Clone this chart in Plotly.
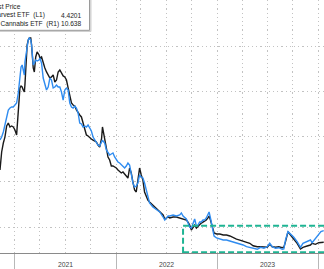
import plotly.graph_objects as go

dates = [
    "2020-11-08", "2020-11-14", "2020-11-20", "2020-11-26", "2020-12-02", "2020-12-08",
    "2020-12-14", "2020-12-20", "2020-12-26", "2021-01-01", "2021-01-07", "2021-01-13",
    "2021-01-19", "2021-01-23", "2021-01-27", "2021-01-31", "2021-02-04", "2021-02-06",
    "2021-02-10", "2021-02-14", "2021-02-18", "2021-02-22", "2021-02-27", "2021-03-02",
    "2021-03-08", "2021-03-12", "2021-03-17", "2021-03-22", "2021-03-29", "2021-04-01",
    "2021-04-07", "2021-04-13", "2021-04-19", "2021-04-25", "2021-05-01", "2021-05-07",
    "2021-05-13", "2021-05-19", "2021-05-25", "2021-05-31", "2021-06-06", "2021-06-12",
    "2021-06-18", "2021-06-24", "2021-06-30", "2021-07-06", "2021-07-12", "2021-07-18",
    "2021-07-24", "2021-07-30", "2021-08-05", "2021-08-11", "2021-08-17", "2021-08-23",
    "2021-08-29", "2021-09-04", "2021-09-10", "2021-09-16", "2021-09-22", "2021-09-28",
    "2021-10-04", "2021-10-10", "2021-10-16", "2021-10-22", "2021-10-28", "2021-11-03",
    "2021-11-10", "2021-11-13", "2021-11-15", "2021-11-21", "2021-11-27", "2021-12-03",
    "2021-12-09", "2021-12-15", "2021-12-21", "2021-12-27", "2022-01-02", "2022-01-08",
    "2022-01-14", "2022-01-20", "2022-01-26", "2022-02-01", "2022-02-07", "2022-02-13",
    "2022-02-19", "2022-02-25", "2022-03-03", "2022-03-09", "2022-03-15", "2022-03-21",
    "2022-03-27", "2022-04-02", "2022-04-08", "2022-04-14", "2022-04-20", "2022-04-26",
    "2022-05-02", "2022-05-14", "2022-05-27", "2022-06-08", "2022-06-20", "2022-06-26",
    "2022-07-02", "2022-07-08", "2022-07-14", "2022-07-26", "2022-08-07", "2022-08-19",
    "2022-08-25", "2022-08-31", "2022-09-12", "2022-09-18", "2022-09-24", "2022-09-30",
    "2022-10-06", "2022-10-12", "2022-10-18", "2022-10-24", "2022-10-30", "2022-11-05",
    "2022-11-11", "2022-11-17", "2022-11-23", "2022-11-29", "2022-12-03", "2022-12-08",
    "2022-12-15", "2022-12-21", "2022-12-30", "2023-01-11", "2023-01-23", "2023-02-04",
    "2023-02-16", "2023-02-28", "2023-03-12", "2023-03-24", "2023-04-05", "2023-04-17",
    "2023-04-29", "2023-05-11", "2023-05-26", "2023-06-07", "2023-06-19", "2023-07-01",
    "2023-07-10", "2023-07-19", "2023-07-31", "2023-08-12", "2023-08-24", "2023-08-30",
    "2023-09-05", "2023-09-14", "2023-09-23", "2023-10-05", "2023-10-17", "2023-10-29",
    "2023-11-07", "2023-11-22", "2023-12-04", "2023-12-10", "2023-12-22", "2024-01-03",
    "2024-01-11", "2024-01-21",
]

# ETFMG Alternative Harvest ETF (L1)
harvest = [
    12.41, 14.40, 15.39, 16.06, 17.27, 17.60, 17.16, 17.27, 17.16, 16.83, 16.28, 19.26,
    21.47, 21.69, 21.58, 21.25, 21.03, 21.80, 24.01, 26.22, 26.77, 26.99, 26.99, 26.22,
    23.68, 23.24, 24.90, 25.45, 25.12, 24.78, 24.90, 24.12, 23.68, 23.24, 22.91, 22.57,
    22.69, 22.91, 22.13, 22.35, 23.24, 23.46, 23.13, 22.80, 22.69, 22.35, 21.47, 20.70,
    19.81, 19.59, 19.48, 19.04, 18.71, 18.49, 18.27, 17.60, 17.05, 16.28, 16.17, 15.94,
    15.83, 15.72, 15.61, 15.50, 15.17, 14.95, 15.94, 17.16, 16.83, 15.72, 14.84, 13.85,
    13.51, 12.85, 12.85, 12.74, 12.63, 12.41, 12.19, 12.08, 12.19, 11.97, 11.75, 11.52,
    12.63, 12.08, 11.08, 10.20, 9.98, 11.30, 12.63, 11.86, 11.30, 9.98, 9.43, 9.09,
    8.87, 8.54, 8.21, 7.88, 7.44, 6.99, 7.11, 7.22, 7.11, 7.22, 7.22, 7.11,
    7.11, 6.99, 6.88, 6.66, 6.33, 5.78, 6.11, 6.33, 6.00, 6.22, 6.44, 6.55,
    6.66, 6.77, 6.88, 7.11, 7.33, 6.88, 6.00, 5.45, 5.34, 5.34, 5.23, 5.23,
    5.12, 4.93, 4.78, 4.67, 4.56, 4.42, 4.31, 4.04, 3.93, 3.93, 3.87, 3.87,
    4.20, 3.93, 3.87, 3.93, 3.82, 3.87, 4.49, 5.59, 5.23, 4.75, 4.31, 3.68,
    3.87, 4.01, 4.12, 4.31, 4.20, 4.38, 4.42, 4.42,
]

# AdvisorShares Pure US Cannabis ETF (R1)
cannabis = [
    30.80, 31.46, 32.57, 34.13, 36.35, 37.46, 37.91, 38.13, 38.13, 38.57, 39.02, 41.24,
    44.13, 47.02, 47.46, 45.91, 45.24, 48.13, 50.13, 51.91, 53.02, 53.46, 53.02, 51.91,
    47.46, 47.91, 48.57, 48.35, 48.57, 49.02, 47.91, 44.57, 43.46, 41.91, 42.57, 44.57,
    44.13, 42.35, 42.57, 43.02, 42.57, 42.57, 41.46, 39.68, 41.91, 42.35, 41.91, 39.02,
    38.13, 37.91, 38.35, 37.91, 36.80, 34.57, 34.35, 33.68, 33.91, 33.68, 34.13, 33.46,
    32.80, 31.46, 30.80, 30.13, 29.68, 29.46, 30.35, 30.80, 30.57, 30.13, 28.57, 27.91,
    27.46, 27.68, 27.91, 27.02, 26.35, 25.91, 25.68, 25.24, 24.80, 24.57, 25.02, 25.68,
    25.24, 23.02, 21.24, 20.35, 20.57, 21.24, 23.02, 22.57, 22.35, 21.24, 19.68, 18.13,
    16.80, 15.91, 15.24, 14.80, 13.68, 13.02, 13.46, 13.91, 13.91, 14.13, 13.91, 14.13,
    14.57, 13.91, 13.24, 12.13, 11.46, 11.24, 12.35, 13.24, 11.68, 11.91, 12.57, 12.57,
    13.02, 13.02, 13.46, 14.35, 14.80, 13.46, 11.24, 9.46, 9.02, 8.80, 8.57, 8.57,
    8.35, 8.20, 7.84, 7.62, 7.46, 7.08, 6.86, 6.73, 6.51, 6.95, 6.73, 7.08,
    7.84, 7.08, 6.73, 6.86, 6.51, 6.57, 8.57, 10.42, 9.91, 9.17, 8.20, 6.95,
    7.84, 8.20, 8.57, 7.97, 8.95, 9.91, 10.42, 10.64,
]

year_labels = ["2021", "2022", "2023"]
year_label_dates = ["2021-07-01", "2022-07-02", "2023-07-02"]
legend_names = ["Last Price",
                "ETFMG Alternative Harvest ETF\u00a0\u00a0(L1)",
                "AdvisorShares Pure US Cannabis ETF\u00a0\u00a0(R1)"]
legend_values = ["4.4201", "10.638"]

W, H = 324, 269
PLOT_H = 253

fig = go.Figure()
fig.add_trace(go.Scatter(x=dates, y=cannabis, yaxis="y2", mode="lines",
                         line=dict(color="#2f8cf0", width=1.4), showlegend=False))
fig.add_trace(go.Scatter(x=dates, y=harvest, yaxis="y", mode="lines",
                         line=dict(color="#1a1a1a", width=1.4), showlegend=False))

grid_col = "#c2c2c2"
grid_dash = "1.2px,3px"
fig.update_layout(
    width=W, height=H,
    margin=dict(l=0, r=0, t=0, b=H - PLOT_H, pad=0),
    paper_bgcolor="white", plot_bgcolor="white",
    showlegend=False,
    xaxis=dict(
        type="date", range=["2020-11-08", "2024-01-22"],
        tick0="2021-01-01", dtick="M12",
        ticks="outside", ticklen=16, tickcolor="#b8b8b8", tickwidth=1,
        showticklabels=False,
        showgrid=True, gridcolor=grid_col, griddash=grid_dash, gridwidth=1.2,
        minor=dict(tick0="2021-01-01", dtick="M3", showgrid=True,
                   gridcolor=grid_col, griddash=grid_dash, gridwidth=1.2, ticks=""),
        showline=True, linecolor="#8a8a8a", linewidth=1,
        zeroline=False, fixedrange=True,
    ),
    yaxis=dict(
        range=[3.24, 31.19], tickmode="array",
        tickvals=[6.1, 11.1, 16.1, 21.1, 26.1],
        showticklabels=False, ticks="",
        showgrid=True, gridcolor=grid_col, griddash=grid_dash, gridwidth=1.2,
        zeroline=False, showline=False,
    ),
    yaxis2=dict(
        range=[5.68, 61.91], overlaying="y", side="right",
        showticklabels=False, ticks="", showgrid=False, zeroline=False, showline=False,
    ),
)

# highlighted region
fig.add_shape(type="rect", xref="x", yref="y",
              x0="2022-08-31", x1="2024-03-01", y0=3.32, y1=6.25,
              line=dict(color="#1eb493", width=2, dash="6px,3px"),
              fillcolor="rgba(0,0,0,0)", layer="above")

# legend box (cut at the left edge)
def py(px):
    return 1 - px / PLOT_H

fig.add_shape(type="rect", xref="paper", yref="paper",
              x0=-0.1, x1=91 / W, y0=py(31.5), y1=1.1,
              line=dict(color="#d0d0d0", width=1), fillcolor="#d8d8d8", layer="above")
fig.add_shape(type="rect", xref="paper", yref="paper",
              x0=-0.1, x1=89.5 / W, y0=py(30.3), y1=1.1,
              line=dict(color="#9a9a9a", width=1), fillcolor="white", layer="above")

font = dict(family="Liberation Sans, Arial, sans-serif", size=6.6, color="#222222")
rows_y = [6.5, 15.3, 23.8]
rows_right = [22.5, 47, 61]
for name, yy, xr in zip(legend_names, rows_y, rows_right):
    fig.add_annotation(x=xr / W, y=py(yy), xref="paper", yref="paper", text=name,
                       showarrow=False, xanchor="right", yanchor="middle", font=font)
for val, yy in zip(legend_values, rows_y[1:]):
    fig.add_annotation(x=83.5 / W, y=py(yy), xref="paper", yref="paper", text=val,
                       showarrow=False, xanchor="right", yanchor="middle", font=font)

for lab, d in zip(year_labels, year_label_dates):
    fig.add_annotation(x=d, y=py(264.5), xref="x", yref="paper", text=lab,
                       showarrow=False, xanchor="center", yanchor="middle",
                       font=dict(family="Liberation Sans, Arial, sans-serif", size=6.8, color="#444444"))

fig.write_html("out.html", config={"displayModeBar": False})
